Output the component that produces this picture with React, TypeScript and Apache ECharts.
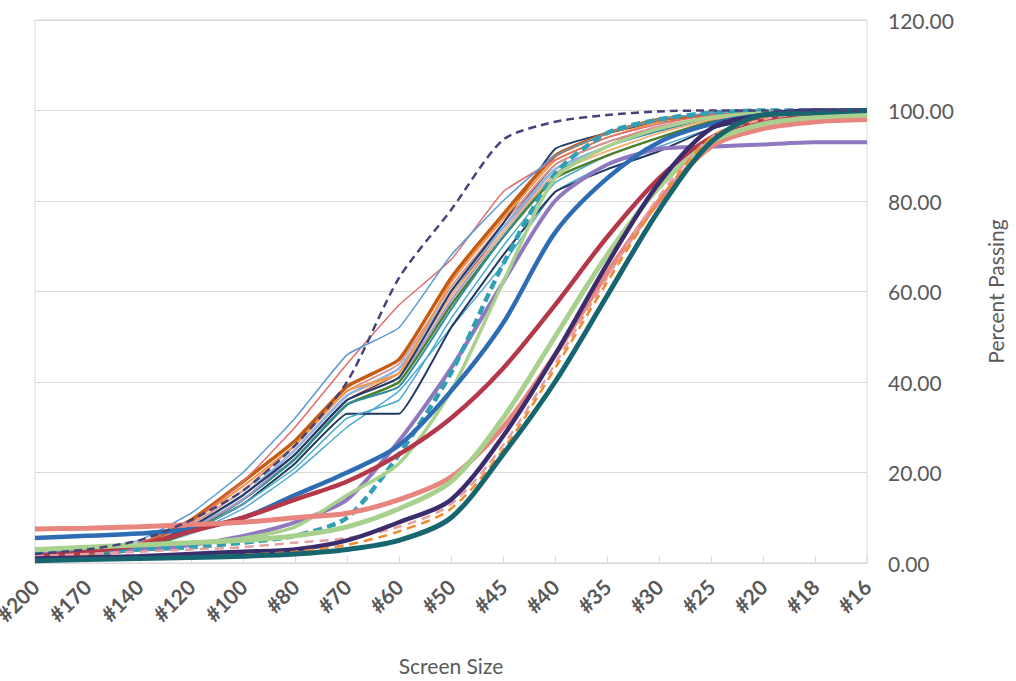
import React, { useEffect, useRef } from "react";
import * as echarts from "echarts";

const categories = ["#200", "#170", "#140", "#120", "#100", "#80", "#70", "#60", "#50", "#45", "#40", "#35", "#30", "#25", "#20", "#18", "#16"];
const yTicks = { min: 0, max: 120, interval: 20 };

// thin / medium lines of the main bundle
const thinBlue = [2, 3, 5, 11, 20, 32, 46, 52, 68, 80, 90, 95, 98, 99.5, 100, 100, 100];
const salmonThin = [1.5, 2.5, 4.5, 9, 18, 30, 44, 57, 67, 82, 89, 94, 97, 99, 99.5, 100, 100];
const orangeBrown = [1, 2, 4, 9.5, 18, 27, 39, 45, 63, 77, 90, 95, 98, 99, 99.5, 100, 100];
const orangeLight = [1, 2, 4, 9, 17, 26, 38, 42, 62, 76, 89, 94, 97.5, 99, 99.5, 100, 100];
const darkNavyTop = [1, 2, 3.5, 8, 15, 24, 36, 41, 60, 75, 91.5, 95, 97.5, 99, 99.5, 100, 100];
const darkNavyBottom = [1, 1.5, 3, 7, 13, 22, 33, 33, 52, 68, 82, 87, 91, 96, 98.5, 99.5, 100];
const greenMid = [1, 2, 3, 7, 14, 23, 35, 40, 57, 72, 85, 90, 94, 97.5, 99, 99.5, 100];
const cyanKink = [1, 1.5, 3, 7, 13, 21, 32, 36, 54, 70, 84, 90, 94, 97.5, 99, 99.5, 100];
const lightBlueMid = [1.5, 2.5, 4, 8, 15, 25, 37, 43, 60, 74, 87, 92, 96, 98.5, 99.5, 100, 100];
const pinkMid = [1.5, 2.5, 4, 8.5, 16, 26, 38, 44, 61, 75, 88, 93, 96.5, 98.5, 99.5, 100, 100];
const darkRedThin = [1, 2, 3.5, 8, 15, 24, 36, 42, 59, 74, 88, 93, 96, 98.5, 99.5, 100, 100];
const tealMid = [1, 2, 3.5, 7.5, 14, 23, 35, 39, 56, 72, 86, 92, 95.5, 98, 99.5, 100, 100];
const peach = [1.5, 2.5, 4, 8, 15, 25, 37, 42, 59, 73, 86, 91, 95, 98, 99.5, 100, 100];
const lilacThin = [1, 2, 3.5, 7.5, 14, 24, 36, 41, 58, 73, 87, 92, 96, 98.5, 99.5, 100, 100];
const skyBlue = [1, 1.5, 3, 6.5, 12, 20, 30, 38, 52, 66, 82, 88, 92, 96, 98.5, 99.5, 100];

// bold, separated lines
const purple = [2, 2.5, 3, 4, 6, 9, 14, 27, 43, 62, 80, 88, 91.5, 92, 92.5, 93, 93];
const tealDash = [2, 2.5, 3, 3.5, 4.5, 6, 10, 24, 42, 66, 86, 95, 98, 99.5, 100, 100, 100];
const blue = [5.5, 6, 6.5, 7.5, 10, 15, 20, 26, 38, 53, 73, 85, 93, 97, 99, 99.5, 100];
const red = [1.5, 2.5, 4, 7, 10, 14, 18, 24, 32, 43, 57, 72, 85, 94, 98, 99, 99.5];
const greenSteep = [3, 3.5, 4, 4.5, 5.5, 8, 15, 22, 38, 62, 85, 92, 96, 98.5, 99.5, 100, 100];
const pinkDash = [1.5, 2, 2.5, 3, 3.5, 4.5, 5.5, 8, 13, 26, 44, 63, 81, 94, 98, 99.5, 100];
const orangeDash = [0.5, 0.8, 1, 1.3, 1.8, 2.5, 4, 7, 12, 25, 43, 62, 80, 94, 98.5, 99.5, 100];
const salmon = [7.5, 7.7, 8, 8.5, 9, 10, 11, 14, 19, 30, 46, 64, 80, 92, 96, 97.5, 98];
const lightGreen = [3, 3.5, 4, 4.5, 5, 6, 8, 12, 18, 32, 50, 68, 83, 93, 97, 98.5, 99];
const navyPurple = [1, 1.2, 1.5, 2, 2.5, 3, 5, 9, 14, 28, 46, 66, 84, 96, 99, 100, 100];
const tealDark = [0.5, 0.8, 1, 1.2, 1.5, 2, 3, 5, 10, 24, 40, 59, 78, 93, 99, 99.5, 100];
const navyDash = [2, 3, 5, 9.5, 16, 26, 40, 63, 78, 93.5, 97.5, 99, 99.8, 100, 100, 100, 100];

type S = { name: string; data: number[]; color: string; width: number; dash?: number[]; smooth: number };

const seriesDefs: S[] = [
  { name: "S1", data: skyBlue, color: "#4FA8D8", width: 1.5, smooth: 0.12 },
  { name: "S2", data: darkNavyBottom, color: "#1F3864", width: 2, smooth: 0.1 },
  { name: "S3", data: cyanKink, color: "#4BACC6", width: 1.5, smooth: 0.1 },
  { name: "S4", data: greenMid, color: "#4E7F2A", width: 2.5, smooth: 0.15 },
  { name: "S5", data: tealMid, color: "#2F8FA0", width: 2, smooth: 0.15 },
  { name: "S6", data: lilacThin, color: "#A894D0", width: 2, smooth: 0.15 },
  { name: "S7", data: darkRedThin, color: "#7B2C2C", width: 1.5, smooth: 0.15 },
  { name: "S8", data: peach, color: "#F6B27A", width: 2, smooth: 0.15 },
  { name: "S9", data: lightBlueMid, color: "#8EB4E3", width: 2.5, smooth: 0.15 },
  { name: "S10", data: pinkMid, color: "#D99694", width: 2, smooth: 0.15 },
  { name: "S11", data: darkNavyTop, color: "#203C6A", width: 2, smooth: 0.12 },
  { name: "S12", data: orangeLight, color: "#F79646", width: 2, smooth: 0.12 },
  { name: "S13", data: orangeBrown, color: "#C55A11", width: 3.5, smooth: 0.15 },
  { name: "S14", data: salmonThin, color: "#E06C6C", width: 1.5, smooth: 0.12 },
  { name: "S15", data: thinBlue, color: "#5B9BD5", width: 1.5, smooth: 0.12 },
  { name: "S16", data: purple, color: "#8E78C0", width: 4, smooth: 0.25 },
  { name: "S17", data: tealDash, color: "#31A0B5", width: 4.5, dash: [9, 5], smooth: 0.25 },
  { name: "S18", data: greenSteep, color: "#A9D18E", width: 3.5, smooth: 0.25 },
  { name: "S19", data: blue, color: "#2E6DB4", width: 4.5, smooth: 0.3 },
  { name: "S20", data: red, color: "#B5374A", width: 4.5, smooth: 0.3 },
  { name: "S21", data: salmon, color: "#E8857F", width: 5, smooth: 0.3 },
  { name: "S22", data: lightGreen, color: "#A9D18E", width: 5, smooth: 0.3 },
  { name: "S23", data: pinkDash, color: "#E6A0A0", width: 2.5, dash: [9, 6], smooth: 0.3 },
  { name: "S24", data: navyPurple, color: "#3B2C6E", width: 4.5, smooth: 0.3 },
  { name: "S25", data: orangeDash, color: "#F08A2C", width: 2.5, dash: [9, 6], smooth: 0.3 },
  { name: "S26", data: tealDark, color: "#17656F", width: 5, smooth: 0.3 },
  { name: "S27", data: navyDash, color: "#46437A", width: 2.5, dash: [8, 5], smooth: 0.25 },
];

const FONT = "Lato, 'Open Sans', sans-serif";

export default function App() {
  const ref = useRef<HTMLDivElement>(null);
  useEffect(() => {
    if (!ref.current) return;
    const chart = echarts.init(ref.current, undefined, { renderer: "svg" });
    chart.setOption({
      animation: false,
      backgroundColor: "#ffffff",
      grid: {
        left: 35,
        right: 149,
        top: 20,
        bottom: 118,
        containLabel: false,
        outerBoundsMode: "none",
        show: true,
        borderColor: "#d9d9d9",
        borderWidth: 1,
      },
      xAxis: {
        type: "category",
        data: categories,
        boundaryGap: false,
        name: "Screen Size",
        nameLocation: "middle",
        nameGap: 92,
        nameTextStyle: { color: "#595959", fontSize: 21, fontFamily: FONT },
        axisLine: { lineStyle: { color: "#d9d9d9" } },
        axisTick: { show: true, inside: true, length: 7, lineStyle: { color: "#d9d9d9" } },
        axisLabel: {
          rotate: 45,
          margin: 20,
          color: "#595959",
          fontSize: 21,
          fontWeight: "bold",
          fontFamily: FONT,
          hideOverlap: false,
        },
        splitLine: { show: false },
      },
      yAxis: {
        type: "value",
        position: "right",
        min: yTicks.min,
        max: yTicks.max,
        interval: yTicks.interval,
        name: "Percent Passing",
        nameLocation: "middle",
        nameRotate: 90,
        nameGap: 118,
        nameTextStyle: { color: "#595959", fontSize: 21, fontFamily: FONT },
        axisLine: { show: false },
        axisTick: { show: false },
        axisLabel: {
          margin: 21,
          color: "#595959",
          fontSize: 21,
          fontFamily: FONT,
          formatter: (v: number) => v.toFixed(2),
        },
        splitLine: { lineStyle: { color: "#d9d9d9", width: 1 } },
      },
      series: seriesDefs.map((s) => ({
        name: s.name,
        type: "line",
        data: s.data,
        showSymbol: false,
        symbol: "none",
        smooth: s.smooth,
        lineStyle: {
          color: s.color,
          width: s.width,
          type: s.dash ? s.dash : "solid",
          cap: "butt",
        },
        itemStyle: { color: s.color },
      })),
    });
    return () => chart.dispose();
  }, []);
  return <div ref={ref} style={{ width: 1016, height: 681, position: "absolute", left: 0, top: 0 }} />;
}
